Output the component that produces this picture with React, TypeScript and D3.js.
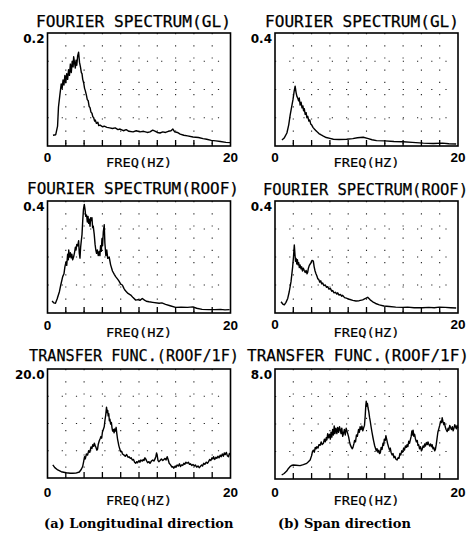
import React from 'react';
import * as d3 from 'd3';

type Pt = [number, number];

const TITLES = ['FOURIER SPECTRUM(GL)', 'FOURIER SPECTRUM(GL)', 'FOURIER SPECTRUM(ROOF)', 'FOURIER SPECTRUM(ROOF)', 'TRANSFER FUNC.(ROOF/1F)', 'TRANSFER FUNC.(ROOF/1F)'];
const Y_MAX = [0.2, 0.4, 0.4, 0.4, 20, 8];
const Y_MAX_LABELS = ['0.2', '0.4', '0.4', '0.4', '20.0', '8.0'];
const X_DOMAIN: [number, number] = [0, 20];
const X_END_LABELS = ['0', '20'];
const X_TICKS = [2, 4, 6, 8, 10, 12, 14, 16, 18];
const Y_GRID_FRACTIONS = [0.25, 0.5, 0.75];
const X_LABEL = 'FREQ(HZ)';
const CAPTIONS = ['(a) Longitudinal direction', '(b) Span direction'];

const GL_LONG: Pt[] = [[0.6,0.019],[0.9,0.02],[1.1,0.035],[1.2,0.069],[1.35,0.09],[1.5,0.11],[1.6,0.102],[1.7,0.117],[1.8,0.108],[1.9,0.125],[2.0,0.112],[2.1,0.128],[2.2,0.118],[2.3,0.135],[2.4,0.125],[2.5,0.145],[2.6,0.13],[2.7,0.15],[2.8,0.14],[2.86,0.158],[2.95,0.148],[3.04,0.138],[3.12,0.152],[3.2,0.143],[3.3,0.16],[3.4,0.166],[3.5,0.148],[3.6,0.14],[3.7,0.13],[3.77,0.128],[3.85,0.118],[3.95,0.112],[4.05,0.102],[4.13,0.098],[4.25,0.09],[4.35,0.082],[4.45,0.08],[4.55,0.07],[4.65,0.068],[4.75,0.06],[4.86,0.058],[4.95,0.052],[5.05,0.05],[5.15,0.044],[5.22,0.046],[5.35,0.04],[5.5,0.042],[5.6,0.036],[5.76,0.037],[6.0,0.034],[6.2,0.035],[6.5,0.033],[6.8,0.032],[7.1,0.031],[7.4,0.032],[7.7,0.029],[7.93,0.03],[8.3,0.027],[8.6,0.029],[8.9,0.026],[9.35,0.025],[9.7,0.027],[10.1,0.025],[10.5,0.026],[10.9,0.024],[11.2,0.025],[11.5,0.028],[11.8,0.026],[12.0,0.024],[12.3,0.023],[12.6,0.025],[12.9,0.024],[13.2,0.026],[13.5,0.027],[13.7,0.03],[13.9,0.025],[14.2,0.024],[14.5,0.021],[14.9,0.019],[15.3,0.018],[15.9,0.016],[16.5,0.015],[17.0,0.013],[17.4,0.012],[17.9,0.01],[18.4,0.009],[18.9,0.008],[19.5,0.0065],[20,0.006]];

const GL_SPAN: Pt[] = [[0.76,0.021],[1.0,0.028],[1.3,0.046],[1.5,0.075],[1.66,0.11],[1.8,0.135],[1.96,0.163],[2.1,0.195],[2.2,0.212],[2.3,0.19],[2.4,0.175],[2.5,0.168],[2.58,0.16],[2.65,0.17],[2.75,0.145],[2.85,0.155],[2.95,0.135],[3.05,0.142],[3.12,0.125],[3.2,0.132],[3.3,0.112],[3.4,0.118],[3.48,0.1],[3.58,0.105],[3.7,0.088],[3.8,0.092],[3.9,0.078],[4.02,0.074],[4.15,0.066],[4.3,0.06],[4.45,0.055],[4.57,0.051],[4.8,0.044],[5.0,0.04],[5.29,0.035],[5.6,0.03],[6.0,0.027],[6.38,0.024],[7.0,0.023],[7.83,0.024],[8.5,0.026],[9.0,0.029],[9.64,0.031],[10.2,0.026],[10.6,0.022],[11.1,0.019],[12.0,0.018],[13.0,0.016],[14.0,0.015],[15.0,0.013],[16.2,0.01],[17.3,0.009],[18.3,0.01],[19.0,0.008],[19.8,0.007]];

const ROOF_LONG: Pt[] = [[0.5,0.043],[0.7,0.036],[0.87,0.035],[1.05,0.05],[1.3,0.076],[1.45,0.1],[1.66,0.13],[1.8,0.14],[1.9,0.165],[2.03,0.183],[2.1,0.17],[2.2,0.21],[2.28,0.19],[2.32,0.225],[2.4,0.2],[2.5,0.215],[2.58,0.197],[2.66,0.21],[2.75,0.19],[2.85,0.2],[2.95,0.215],[3.05,0.235],[3.12,0.225],[3.2,0.245],[3.3,0.24],[3.4,0.258],[3.47,0.215],[3.55,0.196],[3.62,0.235],[3.7,0.26],[3.77,0.28],[3.85,0.33],[3.93,0.37],[4.02,0.388],[4.1,0.37],[4.18,0.345],[4.27,0.35],[4.35,0.325],[4.43,0.345],[4.5,0.32],[4.57,0.335],[4.65,0.31],[4.72,0.34],[4.8,0.33],[4.86,0.34],[4.93,0.305],[5.0,0.31],[5.11,0.28],[5.2,0.245],[5.28,0.225],[5.36,0.213],[5.45,0.225],[5.55,0.205],[5.65,0.22],[5.73,0.205],[5.8,0.24],[5.88,0.22],[5.95,0.265],[6.02,0.24],[6.1,0.29],[6.2,0.315],[6.27,0.25],[6.38,0.205],[6.48,0.225],[6.58,0.195],[6.74,0.2],[6.9,0.172],[7.1,0.15],[7.3,0.138],[7.45,0.13],[7.64,0.122],[7.8,0.115],[8.0,0.103],[8.18,0.1],[8.35,0.088],[8.5,0.08],[8.62,0.076],[8.8,0.07],[9.1,0.064],[9.35,0.055],[9.64,0.046],[9.9,0.048],[10.1,0.045],[10.36,0.052],[10.6,0.046],[10.8,0.042],[11.1,0.04],[11.5,0.038],[12.2,0.035],[12.5,0.036],[12.9,0.031],[13.4,0.026],[14.0,0.02],[14.6,0.021],[15.3,0.02],[15.9,0.022],[16.3,0.017],[16.9,0.013],[17.6,0.012],[18.3,0.012],[18.9,0.013],[19.4,0.011],[19.9,0.012]];

const ROOF_SPAN: Pt[] = [[0.66,0.04],[0.85,0.032],[1.02,0.029],[1.2,0.038],[1.39,0.052],[1.55,0.075],[1.75,0.112],[1.93,0.165],[2.02,0.2],[2.11,0.243],[2.18,0.21],[2.24,0.185],[2.3,0.195],[2.38,0.175],[2.45,0.19],[2.52,0.172],[2.59,0.18],[2.66,0.162],[2.74,0.172],[2.84,0.158],[2.92,0.165],[3.0,0.15],[3.1,0.16],[3.2,0.152],[3.3,0.145],[3.4,0.152],[3.5,0.14],[3.57,0.145],[3.65,0.16],[3.75,0.17],[3.85,0.175],[3.93,0.18],[4.05,0.188],[4.19,0.185],[4.28,0.165],[4.38,0.15],[4.48,0.14],[4.58,0.132],[4.68,0.122],[4.78,0.12],[4.9,0.11],[5.0,0.115],[5.1,0.104],[5.21,0.107],[5.35,0.098],[5.5,0.1],[5.62,0.092],[5.76,0.094],[5.9,0.085],[6.05,0.088],[6.2,0.078],[6.31,0.08],[6.45,0.072],[6.6,0.074],[6.75,0.068],[6.85,0.072],[7.0,0.064],[7.15,0.066],[7.3,0.06],[7.4,0.063],[7.6,0.055],[7.8,0.053],[8.12,0.049],[8.5,0.045],[8.85,0.043],[9.2,0.044],[9.58,0.047],[9.9,0.052],[10.13,0.056],[10.4,0.047],[10.68,0.04],[11.0,0.034],[11.4,0.029],[11.9,0.025],[12.5,0.023],[13.2,0.021],[13.96,0.02],[14.5,0.021],[15.2,0.019],[16.1,0.019],[16.8,0.02],[17.4,0.019],[17.96,0.021],[18.6,0.02],[19.2,0.019],[19.8,0.018]];

const TF_LONG: Pt[] = [[0.58,2.4],[0.8,1.9],[1.12,1.47],[1.5,1.15],[2.03,0.97],[2.5,0.87],[2.75,0.86],[3.1,0.9],[3.48,1.1],[3.7,1.6],[3.84,2.1],[3.95,3.0],[4.05,3.9],[4.13,3.5],[4.25,4.4],[4.38,4.2],[4.5,5.0],[4.62,4.7],[4.75,5.7],[4.85,5.4],[4.95,6.1],[5.05,5.8],[5.11,6.4],[5.2,6.0],[5.3,5.6],[5.4,5.1],[5.47,5.3],[5.55,6.2],[5.65,6.8],[5.75,7.2],[5.84,7.6],[5.92,7.3],[6.0,8.4],[6.1,8.9],[6.2,9.4],[6.28,10.6],[6.36,11.5],[6.45,13.0],[6.52,12.0],[6.58,12.4],[6.63,11.4],[6.7,11.8],[6.76,10.5],[6.82,10.8],[6.9,9.9],[6.98,10.2],[7.05,9.2],[7.12,8.6],[7.2,8.9],[7.28,8.3],[7.35,9.0],[7.42,8.6],[7.5,9.3],[7.58,8.1],[7.65,7.2],[7.72,6.6],[7.8,5.9],[7.9,5.3],[8.01,4.8],[8.1,4.9],[8.2,4.4],[8.37,4.2],[8.5,4.0],[8.65,4.3],[8.8,3.8],[8.91,3.9],[9.05,3.6],[9.15,3.7],[9.27,3.3],[9.4,3.4],[9.52,2.9],[9.64,2.7],[9.75,3.0],[9.85,2.8],[10.0,3.2],[10.1,2.9],[10.2,3.3],[10.36,3.1],[10.45,3.4],[10.55,3.2],[10.65,3.7],[10.73,3.5],[10.85,3.1],[10.95,2.8],[11.09,3.0],[11.2,2.7],[11.35,3.1],[11.5,3.3],[11.63,3.1],[11.75,3.5],[11.85,4.0],[11.92,4.6],[11.99,4.1],[12.08,3.2],[12.17,3.0],[12.3,3.2],[12.45,3.5],[12.6,3.2],[12.72,3.4],[12.85,3.6],[12.95,3.3],[13.08,3.9],[13.2,3.3],[13.3,2.7],[13.45,2.4],[13.6,2.0],[13.7,2.1],[13.8,1.8],[13.95,2.2],[14.05,2.0],[14.16,2.4],[14.3,2.2],[14.42,2.6],[14.53,2.1],[14.65,2.4],[14.78,2.3],[14.9,2.7],[15.0,2.5],[15.12,2.9],[15.25,2.7],[15.4,2.9],[15.52,2.5],[15.62,2.6],[15.78,2.3],[15.9,2.5],[16.05,2.2],[16.16,2.4],[16.3,2.0],[16.45,2.2],[16.58,1.9],[16.7,2.1],[16.85,2.4],[16.95,2.2],[17.07,2.7],[17.2,2.5],[17.35,2.9],[17.48,2.7],[17.6,3.0],[17.72,3.4],[17.85,3.2],[17.98,3.7],[18.08,3.5],[18.15,3.9],[18.28,3.4],[18.4,3.8],[18.5,3.6],[18.62,4.0],[18.75,3.7],[18.88,4.2],[18.98,3.9],[19.1,4.4],[19.22,4.0],[19.32,4.6],[19.42,4.3],[19.55,4.7],[19.65,4.1],[19.78,3.9],[19.88,4.5],[20,4.3]];

const TF_SPAN: Pt[] = [[0.73,0.29],[1.0,0.4],[1.28,0.58],[1.45,0.75],[1.64,0.9],[1.8,0.98],[2.0,1.02],[2.3,1.0],[2.74,0.97],[3.1,1.04],[3.47,1.14],[3.65,1.25],[3.84,1.38],[4.0,1.7],[4.1,2.0],[4.2,2.1],[4.3,1.95],[4.4,2.3],[4.5,2.2],[4.57,2.35],[4.7,2.25],[4.8,2.5],[4.93,2.45],[5.05,2.7],[5.15,2.5],[5.29,2.6],[5.4,2.9],[5.5,2.7],[5.6,3.0],[5.67,2.84],[5.76,3.3],[5.85,3.0],[5.95,3.25],[6.05,2.9],[6.12,3.4],[6.21,3.05],[6.3,3.6],[6.38,3.2],[6.47,3.85],[6.55,3.3],[6.65,3.7],[6.76,3.3],[6.85,3.75],[6.95,3.4],[7.05,3.8],[7.12,3.6],[7.22,3.3],[7.3,3.7],[7.4,3.1],[7.48,3.3],[7.58,3.6],[7.68,3.2],[7.78,3.7],[7.86,3.5],[7.95,3.3],[8.05,3.05],[8.15,2.7],[8.22,2.5],[8.35,2.3],[8.45,2.2],[8.52,2.3],[8.62,2.55],[8.7,2.8],[8.8,2.7],[8.9,3.2],[9.0,3.1],[9.13,3.6],[9.22,3.4],[9.3,3.8],[9.4,3.6],[9.5,3.85],[9.6,3.5],[9.7,3.75],[9.78,3.9],[9.86,4.6],[9.92,5.3],[9.97,5.65],[10.05,5.3],[10.1,5.5],[10.16,5.2],[10.25,4.9],[10.33,4.5],[10.41,4.2],[10.5,3.8],[10.6,3.4],[10.71,3.0],[10.8,2.7],[10.9,2.4],[11.0,2.2],[11.07,2.05],[11.15,2.2],[11.25,1.95],[11.35,2.1],[11.42,1.85],[11.51,1.9],[11.6,2.3],[11.7,2.15],[11.8,2.6],[11.87,2.45],[11.95,2.9],[12.05,2.8],[12.12,3.15],[12.2,2.9],[12.3,2.6],[12.42,2.3],[12.52,2.1],[12.6,2.25],[12.68,1.95],[12.8,1.75],[12.9,1.85],[13.0,1.55],[13.1,1.65],[13.2,1.45],[13.34,1.38],[13.45,1.55],[13.55,1.5],[13.65,1.85],[13.75,1.75],[13.85,2.05],[13.95,1.95],[14.06,2.25],[14.15,2.1],[14.25,2.4],[14.35,2.3],[14.43,2.5],[14.52,2.35],[14.62,2.75],[14.7,2.6],[14.79,2.85],[14.88,3.1],[14.96,3.5],[15.04,3.2],[15.09,3.55],[15.18,3.1],[15.26,3.25],[15.34,2.95],[15.45,2.7],[15.55,2.8],[15.62,2.45],[15.7,2.5],[15.8,2.2],[15.9,2.35],[16.0,2.05],[16.08,2.15],[16.18,2.4],[16.28,2.3],[16.36,2.55],[16.44,2.4],[16.55,2.65],[16.65,2.5],[16.72,2.7],[16.8,2.55],[16.9,2.4],[17.0,2.55],[17.1,2.35],[17.17,2.5],[17.27,2.2],[17.35,2.3],[17.45,2.05],[17.53,2.15],[17.62,2.5],[17.7,2.9],[17.8,3.4],[17.9,3.65],[18.0,3.9],[18.1,4.2],[18.2,4.1],[18.27,4.45],[18.35,4.2],[18.45,3.95],[18.52,4.1],[18.6,3.8],[18.7,3.6],[18.82,3.45],[18.92,3.7],[19.0,3.55],[19.1,3.9],[19.18,3.75],[19.28,3.6],[19.38,3.8],[19.47,3.5],[19.56,3.7],[19.65,3.95],[19.73,3.8],[19.82,3.65],[19.9,3.9],[19.98,3.7]];

const SERIES = [GL_LONG, GL_SPAN, ROOF_LONG, ROOF_SPAN, TF_LONG, TF_SPAN];

// layout (pixel boxes, title placement)
const LAYOUT = [
  { x0: 47.5, x1: 230.5, top: 33, bottom: 146, tx: 36, ty: 27, tl: 195, numDy: 16, freqY: 167 },
  { x0: 275, x1: 458, top: 33, bottom: 146, tx: 265, ty: 27, tl: 194, numDy: 16, freqY: 167 },
  { x0: 47.5, x1: 230.5, top: 201, bottom: 313, tx: 27, ty: 194, tl: 212, numDy: 16.5, freqY: 337 },
  { x0: 275, x1: 458, top: 201, bottom: 313, tx: 263, ty: 195, tl: 205, numDy: 15.5, freqY: 337 },
  { x0: 47.5, x1: 230.5, top: 369, bottom: 478, tx: 29, ty: 361, tl: 210, numDy: 19, freqY: 505 },
  { x0: 275, x1: 458, top: 369, bottom: 479, tx: 247, ty: 361, tl: 222, numDy: 18, freqY: 505 },
];

const MONO = "'DejaVu Sans Mono', monospace";

function Panel({ i }: { i: number }) {
  const L = LAYOUT[i];
  const x = d3.scaleLinear().domain(X_DOMAIN).range([L.x0, L.x1]);
  const y = d3.scaleLinear().domain([0, Y_MAX[i]]).range([L.bottom, L.top]);
  const line = d3.line<Pt>().x((d) => x(d[0])).y((d) => y(d[1]));
  const cx = (L.x0 + L.x1) / 2;
  return (
    <g>
      <text x={L.tx} y={L.ty} fontFamily={MONO} fontSize={16} textLength={L.tl} lengthAdjust="spacingAndGlyphs" fill="#000" stroke="#000" strokeWidth={0.25}>
        {TITLES[i]}
      </text>
      {X_TICKS.map((t) => (
        <line key={'gv' + t} x1={x(t)} x2={x(t)} y1={L.top} y2={L.bottom} stroke="#222" strokeWidth={1.1} strokeDasharray="1.2 11" />
      ))}
      {Y_GRID_FRACTIONS.map((f) => (
        <line key={'gh' + f} x1={L.x0} x2={L.x1} y1={y(Y_MAX[i] * f)} y2={y(Y_MAX[i] * f)} stroke="#222" strokeWidth={1.1} strokeDasharray="1.2 13" />
      ))}
      {X_TICKS.map((t) => (
        <line key={'t' + t} x1={x(t)} x2={x(t)} y1={L.bottom} y2={L.bottom - 6} stroke="#000" strokeWidth={1.3} />
      ))}
      <path d={line(SERIES[i]) || ''} fill="none" stroke="#000" strokeWidth={1.4} strokeLinejoin="round" />
      <rect x={L.x0} y={L.top} width={L.x1 - L.x0} height={L.bottom - L.top} fill="none" stroke="#000" strokeWidth={1.6} />
      <text x={L.x0 - 3} y={L.top + 10} textAnchor="end" fontFamily="'DejaVu Sans', sans-serif" fontWeight="bold" fontSize={12}>
        {Y_MAX_LABELS[i]}
      </text>
      <text x={x(X_DOMAIN[0])} y={L.bottom + L.numDy} textAnchor="middle" fontFamily="'Liberation Sans', sans-serif" fontWeight="bold" fontSize={13.5}>
        {X_END_LABELS[0]}
      </text>
      <text x={x(X_DOMAIN[1])} y={L.bottom + L.numDy} textAnchor="middle" fontFamily="'Liberation Sans', sans-serif" fontWeight="bold" fontSize={13.5}>
        {X_END_LABELS[1]}
      </text>
      <text x={cx - 33} y={L.freqY} fontFamily={MONO} fontSize={13} textLength={66} lengthAdjust="spacingAndGlyphs" stroke="#000" strokeWidth={0.2}>
        {X_LABEL}
      </text>
    </g>
  );
}

export default function App() {
  return (
    <svg width={476} height={534} style={{ position: 'absolute', left: 0, top: 0, background: '#fff' }}>
      <rect x={0} y={0} width={476} height={534} fill="#fff" />
      {SERIES.map((_, i) => (
        <Panel key={i} i={i} />
      ))}
      <text x={44} y={528} fontFamily="'DejaVu Serif', serif" fontWeight="bold" fontSize={13}>
        {CAPTIONS[0]}
      </text>
      <text x={278} y={528} fontFamily="'DejaVu Serif', serif" fontWeight="bold" fontSize={13}>
        {CAPTIONS[1]}
      </text>
    </svg>
  );
}
